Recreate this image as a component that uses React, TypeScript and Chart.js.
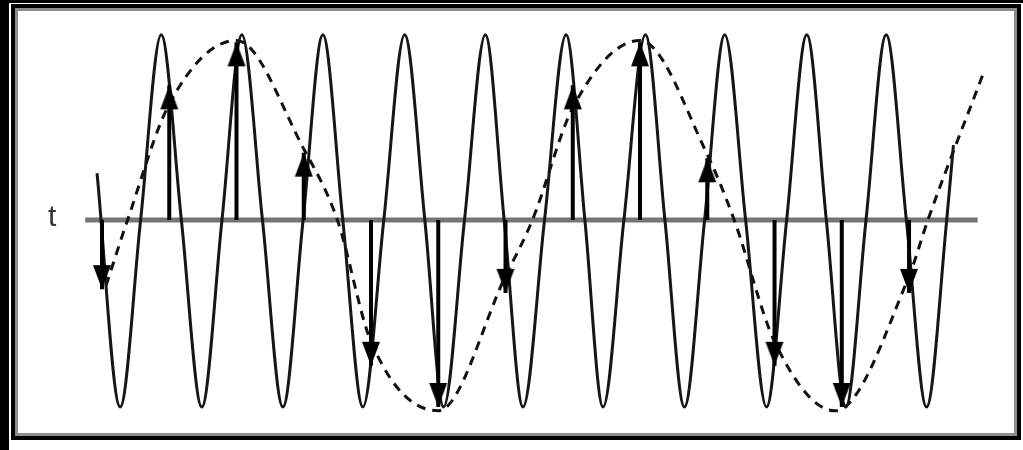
import React, { useEffect, useRef } from "react";
import { Chart, registerables } from "chart.js";

Chart.register(...registerables);

// Sampling instants (time units) and the sampled values (tips of the arrows)
const sampleTimes = [0, 5, 10, 15, 20, 25, 30, 35, 40, 45, 50, 55, 60];
const sampleValues = [-0.37, 0.72, 0.95, 0.36, -0.78, -1.0, -0.39, 0.72, 0.95, 0.33, -0.78, -1.0, -0.39];

// High-frequency signal (solid): extremes and zero crossings
const signalTimes = [
  -0.37, 1.35, 2.87, 4.4, 5.9, 7.42, 8.92, 10.4, 11.93, 13.45, 14.95, 16.42, 17.9, 19.4, 20.95,
  22.5, 24.0, 25.4, 26.95, 28.5, 29.9, 31.3, 32.9, 34.5, 35.9, 37.25, 38.8, 40.4, 41.85, 43.3,
  44.8, 46.3, 47.85, 49.4, 50.9, 52.4, 53.85, 55.3, 56.8, 58.3, 59.8, 61.3, 62.8, 63.3,
];
const signalValues = [
  0.25, -1, 0, 0.99, 0, -1, 0, 0.99, 0, -1, 0, 0.99, 0, -1, 0,
  0.99, 0, -1, 0, 0.99, 0, -1, 0, 0.99, 0, -1, 0, 0.99, 0, -1,
  0, 0.99, 0, -1, 0, 0.99, 0, -1, 0, 0.99, 0, -1, 0, 0.4,
];

// Low-frequency alias (dashed)
const aliasTimes = [0.3, 1.9, 5, 10, 15, 17.5, 20, 25, 30, 32, 35, 40, 45, 47, 50, 54.5, 60, 61.4, 65.5];
const aliasValues = [-0.35, 0, 0.62, 0.96, 0.38, 0, -0.65, -1.02, -0.3, 0, 0.6, 0.96, 0.35, 0, -0.65, -1.02, -0.3, 0, 0.78];

// Time axis extent and label
const axisTimes = [-1.25, 65.1];
const axisLabel = "t";
const axisLabelTime = -3.7;

function makeArrowHead(): HTMLCanvasElement {
  const c = document.createElement("canvas");
  c.width = 22;
  c.height = 52;
  const g = c.getContext("2d")!;
  g.fillStyle = "#000";
  g.beginPath();
  g.moveTo(11, 26);
  g.lineTo(20, 50);
  g.lineTo(2, 50);
  g.closePath();
  g.fill();
  return c;
}

const labelPlugin = {
  id: "axisLabel",
  afterDatasetsDraw(chart: any) {
    const { ctx, scales } = chart;
    const x = scales.x.getPixelForValue(axisLabelTime);
    const y = scales.y.getPixelForValue(0);
    ctx.save();
    ctx.fillStyle = "#333";
    ctx.font = "30px 'Liberation Sans', Arial, sans-serif";
    ctx.textAlign = "center";
    ctx.textBaseline = "middle";
    ctx.fillText(axisLabel, x, y - 2);
    ctx.restore();
  },
};

export default function App() {
  const ref = useRef<HTMLCanvasElement | null>(null);

  useEffect(() => {
    if (!ref.current) return;
    const arrow = makeArrowHead();
    const stems: any[] = [];
    sampleTimes.forEach((t, i) => {
      stems.push({ x: t, y: 0 }, { x: t, y: sampleValues[i] }, { x: t, y: null });
    });
    const chart = new Chart(ref.current, {
      type: "line",
      data: {
        datasets: [
          {
            label: "samples",
            data: sampleTimes.map((t, i) => ({ x: t, y: sampleValues[i] })),
            showLine: false,
            pointStyle: arrow as any,
            pointRadius: 10,
            pointRotation: (ctx: any) => (sampleValues[ctx.dataIndex] < 0 ? 180 : 0),
          } as any,
          {
            label: "stems",
            data: stems,
            borderColor: "#000",
            borderWidth: 4,
            pointRadius: 0,
            spanGaps: false,
            tension: 0,
            borderCapStyle: "butt",
          },
          {
            label: "signal",
            data: signalTimes.map((t, i) => ({ x: t, y: signalValues[i] })),
            borderColor: "#161616",
            borderWidth: 3,
            pointRadius: 0,
            cubicInterpolationMode: "monotone",
          },
          {
            label: "alias",
            data: aliasTimes.map((t, i) => ({ x: t, y: aliasValues[i] })),
            borderColor: "#111",
            borderWidth: 3,
            borderDash: [9, 7],
            pointRadius: 0,
            cubicInterpolationMode: "monotone",
          },
          {
            label: "axis",
            data: axisTimes.map((t) => ({ x: t, y: 0 })),
            borderColor: "#757575",
            borderWidth: 5,
            pointRadius: 0,
            borderCapStyle: "butt",
          },
        ],
      },
      options: {
        animation: false,
        responsive: false,
        devicePixelRatio: 1,
        layout: { padding: { left: 75.1, right: 19.8, top: 14.3, bottom: 24.3 } },
        plugins: { legend: { display: false }, tooltip: { enabled: false } },
        elements: { line: { fill: false } },
        scales: {
          x: { type: "linear", min: -2, max: 67, display: false },
          y: { type: "linear", min: -1.1, max: 1.1, display: false },
        },
      },
      plugins: [labelPlugin],
    });
    return () => chart.destroy();
  }, []);

  return (
    <div
      style={{
        position: "fixed",
        left: 0,
        top: 0,
        width: 1023,
        height: 450,
        background: "#fff",
        overflow: "hidden",
      }}
    >
      <div style={{ position: "absolute", left: 0, top: 0, width: 9, height: 450, background: "#000" }} />
      <div style={{ position: "absolute", left: 0, top: 0, width: 1023, height: 3, background: "#000" }} />
      <div
        style={{
          position: "absolute",
          left: 11,
          top: 4,
          width: 1010,
          height: 436,
          boxSizing: "border-box",
          border: "4px solid #000",
          boxShadow: "inset 0 0 0 3px #8c8c8c",
        }}
      />
      <canvas
        ref={ref}
        width={1023}
        height={450}
        style={{ position: "absolute", left: 0, top: 0, width: 1023, height: 450 }}
      />
    </div>
  );
}
